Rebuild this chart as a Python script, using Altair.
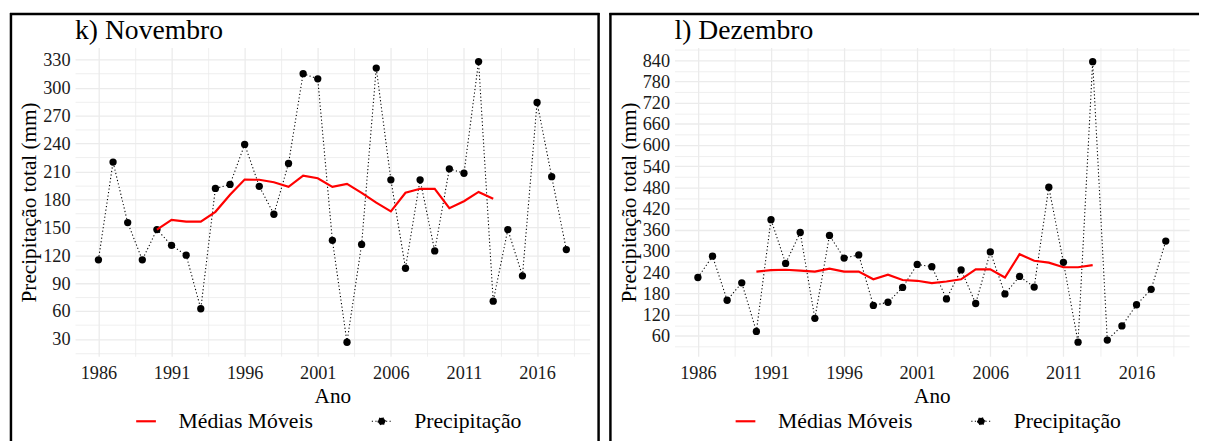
import altair as alt
import pandas as pd

SERIF = "Liberation Serif"

years = list(range(1986, 2019))
ma_years = list(range(1990, 2014))

nov_precip = [115, 220, 155, 115, 147.5, 130.6, 120, 62.5, 191.7, 196, 239, 194, 164,
              218.5, 315, 309.5, 136, 26.5, 131.6, 321, 201, 106, 201, 124.6, 212.8,
              208, 328, 70.6, 147.5, 97.8, 284, 204.4, 126]
nov_ma = [147.5, 158, 156, 156, 166.6, 185, 201.2, 201, 198.3, 193.4, 205.4, 202.6,
          193.4, 196.6, 187, 176.4, 167, 187, 191.3, 191.3, 170.5, 178, 188, 180.7]

dez_precip = [225, 285.4, 160.7, 210, 72.5, 388.7, 265, 352.4, 109.6, 344, 280, 289,
              146, 155, 197, 262, 255.6, 164.5, 246.4, 151.5, 297.5, 178.5, 228, 198,
              480.8, 268, 42, 836, 48, 88, 148, 191.5, 328]
dez_ma = [241.7, 246, 247, 244.6, 241.7, 250, 241.7, 241.7, 220, 233, 218, 215.7,
          209, 213.7, 220, 248, 248, 225, 291, 272.5, 267, 254, 254, 260]

series_names = ["Médias Móveis", "Precipitação"]
series_colors = ["#ff0000", "#000000"]
panel_titles = ["k) Novembro", "l) Dezembro"]

x_grid = [1986 + 2.5 * i for i in range(14)]
nov_y_grid = [15 * i for i in range(1, 23)]
dez_y_grid = [30 * i for i in range(1, 30)]

W, H = 522, 313

IS_MA = "datum.value === 'Médias Móveis'"


def panel(title, precip, ma, ydomain, ygrid, ystep, right_edge=True):
    df_p = pd.DataFrame({"Ano": years, "valor": precip, "serie": series_names[1]})
    df_m = pd.DataFrame({"Ano": ma_years, "valor": ma, "serie": series_names[0]})
    one = pd.DataFrame({"t": [title]})

    legend = alt.Legend(
        orient="none", legendX=61, legendY=368, direction="horizontal", title=None,
        labelFont=SERIF, labelFontSize=22, labelColor="black", symbolSize=400,
        labelOffset=22, columnPadding=56, padding=0, symbolOpacity=1,
        symbolType=alt.ExprRef(IS_MA + " ? 'M-1,0H1' : 'M-1,0H1M-0.36,0A0.36,0.36,0,1,0,0.36,0A0.36,0.36,0,1,0,-0.36,0'"),
        symbolDash=alt.ExprRef(IS_MA + " ? [] : [1.2, 2.4]"),
        symbolStrokeWidth=alt.ExprRef(IS_MA + " ? 2.2 : 1.2"),
        symbolFillColor=alt.ExprRef(IS_MA + " ? 'transparent' : 'black'"),
    )
    color = alt.Color("serie:N", scale=alt.Scale(domain=series_names, range=series_colors), legend=legend)

    x = alt.X("Ano:Q", title="Ano",
              scale=alt.Scale(domain=[1984.4, 2019.6], nice=False, zero=False),
              axis=alt.Axis(values=x_grid, format="d", labelFont=SERIF, titleFont=SERIF,
                            labelExpr="datum.value % 5 == 1 ? datum.label : ''",
                            gridWidth={"condition": {"test": "datum.value % 5 == 1", "value": 1.3}, "value": 0.8}))
    y = alt.Y("valor:Q", title="Precipitação total (mm)",
              scale=alt.Scale(domain=ydomain, nice=False, zero=False),
              axis=alt.Axis(values=ygrid, format="d", labelFont=SERIF, titleFont=SERIF,
                            labelExpr="datum.value %% %d == 0 ? datum.label : ''" % ystep,
                            gridWidth={"condition": {"test": "datum.value %% %d == 0" % ystep, "value": 1.3}, "value": 0.8}))

    frame = alt.Chart(one)
    layers = [
        frame.mark_rule(color="black", strokeWidth=2.5).encode(
            x=alt.value(-65), y=alt.value(-35), y2=alt.value(H + 92)),
        frame.mark_rule(color="black", strokeWidth=2.5).encode(
            x=alt.value(-66), x2=alt.value(W + 10), y=alt.value(-34)),
        frame.mark_text(font=SERIF, fontSize=28, align="left", baseline="alphabetic", color="black").encode(
            x=alt.value(0), y=alt.value(-9), text="t:N"),
    ]
    if right_edge:
        layers.append(frame.mark_rule(color="black", strokeWidth=2.5).encode(
            x=alt.value(W + 9), y=alt.value(-35), y2=alt.value(H + 92)))

    layers += [
        alt.Chart(df_p).mark_line(strokeDash=[1.2, 2.4], strokeWidth=1.1).encode(x=x, y=y, color=color),
        alt.Chart(df_p).mark_point(filled=True, size=55, opacity=1).encode(x=x, y=y, color=color),
        alt.Chart(df_m).mark_line(strokeWidth=2.2).encode(x=x, y=y, color=color),
    ]
    return layers


left = alt.layer(*panel(panel_titles[0], nov_precip, nov_ma, [11.5, 343], nov_y_grid, 30, True)).properties(
    width=W, height=H)
right = alt.layer(*panel(panel_titles[1], dez_precip, dez_ma, [2.3, 875.7], dez_y_grid, 60, False)).properties(
    width=W, height=H)

chart = alt.hconcat(left, right, spacing=6).resolve_scale(
    color="independent").resolve_legend(color="independent").properties(
    padding=0, background="white"
).configure_view(strokeWidth=0).configure_axis(
    labelFont=SERIF, labelFontSize=18.5, labelColor="#1a1a1a",
    titleFont=SERIF, titleFontSize=21.5, titleFontWeight="normal", titleColor="black",
    domain=False, ticks=False, gridColor="#ebebeb", labelOverlap=False, labelFlush=False
).configure_axisX(labelPadding=8, titlePadding=3).configure_axisY(labelPadding=5, titlePadding=2)

chart.save("out.html", embed_options={"renderer": "svg", "actions": False})
